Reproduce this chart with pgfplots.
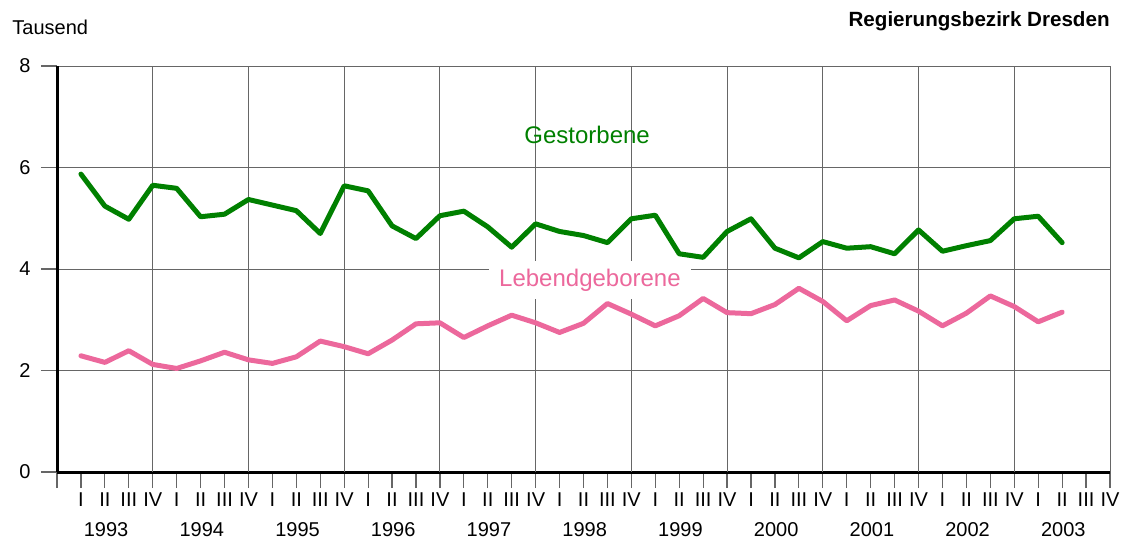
\documentclass[border=0pt]{standalone}
\usepackage{pgfplots}
\pgfplotsset{compat=1.18}
\usepackage{fontspec}
\setmainfont{Liberation Sans}
\definecolor{gruen}{RGB}{0,128,0}
\definecolor{rosa}{RGB}{236,104,156}
\begin{document}
\fontsize{10}{12}\selectfont
\begin{tikzpicture}[x=1pt,y=1pt]
\path[use as bounding box] (0,0) rectangle (564,271);
\node[anchor=west,inner sep=0pt,font=\fontsize{10}{12}\selectfont] at (6,257.5) {Tausend};
\node[anchor=east,inner sep=0pt,font=\fontsize{10.3}{12}\selectfont\bfseries] at (555,260.5) {Regierungsbezirk Dresden};
\begin{axis}[
  at={(28.5pt,35pt)}, anchor=south west,
  scale only axis, width=526.5pt, height=203pt,
  xmin=0, xmax=44, ymin=0, ymax=8,
  clip=false,
  axis x line*=bottom, axis y line*=left,
  axis line style={line width=1.5pt, -},
  xtick={0,...,44},
  xticklabels={,I,II,III,IV,I,II,III,IV,I,II,III,IV,I,II,III,IV,I,II,III,IV,I,II,III,IV,I,II,III,IV,I,II,III,IV,I,II,III,IV,I,II,III,IV,I,II,III,IV},
  ytick={0,2,4,6,8},
  ymajorgrids,
  grid style={black!60, line width=0.5pt},
  extra x ticks={4,8,...,44},
  extra x tick labels={},
  extra x tick style={grid=major, major tick length=0pt},
  tick align=outside, major tick length=8pt,
  tick style={black!60, line width=0.6pt},
  ticklabel style={font=\fontsize{10}{12}\selectfont},
  /pgf/number format/assume math mode=true,
  xticklabel style={inner sep=0pt, yshift=-2pt},
  yticklabel style={inner sep=0pt, xshift=-5pt},
]
\addplot[gruen, line width=2.5pt, line join=round, line cap=round] coordinates {
(1,5.87)(2,5.24)(3,4.98)(4,5.65)(5,5.59)(6,5.03)(7,5.08)(8,5.37)(9,5.26)(10,5.15)
(11,4.70)(12,5.64)(13,5.54)(14,4.85)(15,4.60)(16,5.05)(17,5.14)(18,4.83)(19,4.43)(20,4.89)
(21,4.74)(22,4.66)(23,4.52)(24,4.99)(25,5.06)(26,4.30)(27,4.23)(28,4.74)(29,4.99)(30,4.41)
(31,4.22)(32,4.54)(33,4.41)(34,4.44)(35,4.30)(36,4.77)(37,4.35)(38,4.46)(39,4.56)(40,4.99)
(41,5.04)(42,4.52)};
\addplot[rosa, line width=2.5pt, line join=round, line cap=round] coordinates {
(1,2.29)(2,2.16)(3,2.39)(4,2.12)(5,2.04)(6,2.19)(7,2.36)(8,2.21)(9,2.14)(10,2.27)
(11,2.58)(12,2.47)(13,2.33)(14,2.60)(15,2.92)(16,2.94)(17,2.65)(18,2.88)(19,3.09)(20,2.94)
(21,2.75)(22,2.93)(23,3.32)(24,3.11)(25,2.88)(26,3.08)(27,3.42)(28,3.14)(29,3.12)(30,3.30)
(31,3.62)(32,3.36)(33,2.98)(34,3.28)(35,3.39)(36,3.17)(37,2.88)(38,3.13)(39,3.47)(40,3.26)
(41,2.96)(42,3.15)};
\node[gruen, font=\fontsize{12}{14}\selectfont] at (axis cs:22.15,6.64) {Gestorbene};
\node[rosa, fill=white, inner xsep=5pt, inner ysep=4pt, font=\fontsize{12}{14}\selectfont] at (axis cs:22.27,3.78) {Lebendgeborene};
\node[font=\fontsize{10}{12}\selectfont, yshift=-29pt] at (axis cs:2.05,0) {1993};
\node[font=\fontsize{10}{12}\selectfont, yshift=-29pt] at (axis cs:6.05,0) {1994};
\node[font=\fontsize{10}{12}\selectfont, yshift=-29pt] at (axis cs:10.05,0) {1995};
\node[font=\fontsize{10}{12}\selectfont, yshift=-29pt] at (axis cs:14.05,0) {1996};
\node[font=\fontsize{10}{12}\selectfont, yshift=-29pt] at (axis cs:18.05,0) {1997};
\node[font=\fontsize{10}{12}\selectfont, yshift=-29pt] at (axis cs:22.05,0) {1998};
\node[font=\fontsize{10}{12}\selectfont, yshift=-29pt] at (axis cs:26.05,0) {1999};
\node[font=\fontsize{10}{12}\selectfont, yshift=-29pt] at (axis cs:30.05,0) {2000};
\node[font=\fontsize{10}{12}\selectfont, yshift=-29pt] at (axis cs:34.05,0) {2001};
\node[font=\fontsize{10}{12}\selectfont, yshift=-29pt] at (axis cs:38.05,0) {2002};
\node[font=\fontsize{10}{12}\selectfont, yshift=-29pt] at (axis cs:42.05,0) {2003};
\end{axis}
\end{tikzpicture}
\end{document}
